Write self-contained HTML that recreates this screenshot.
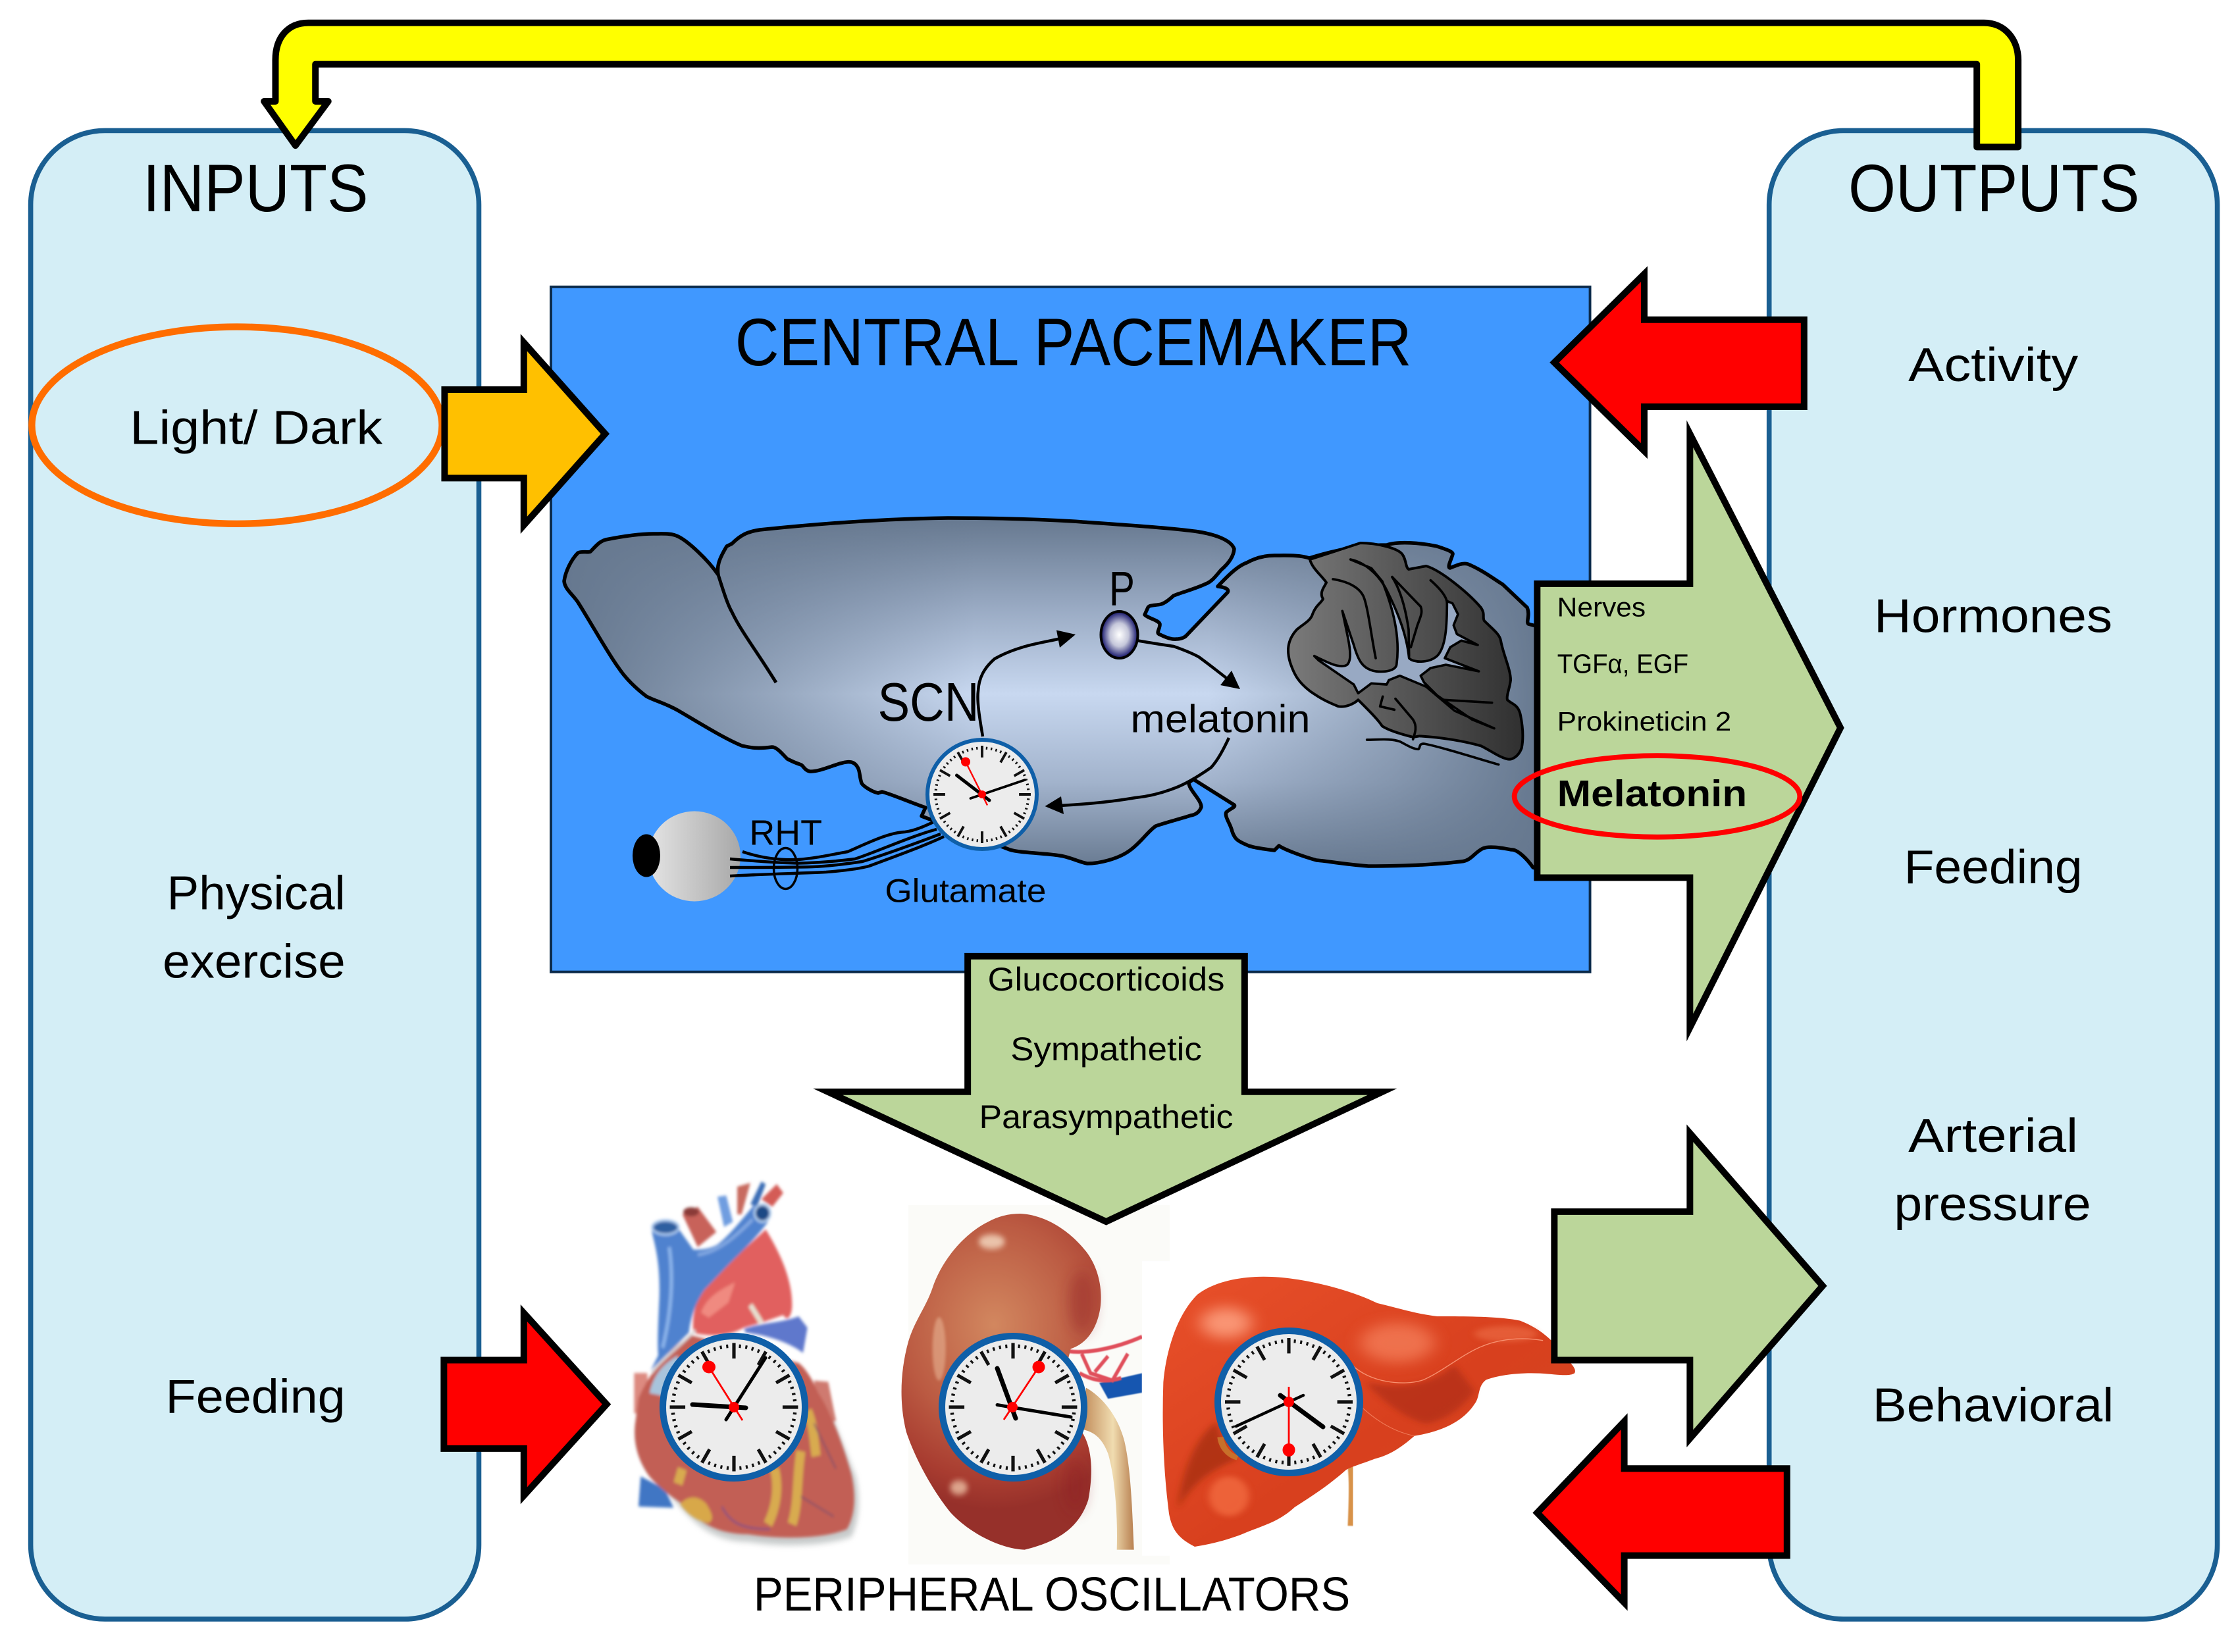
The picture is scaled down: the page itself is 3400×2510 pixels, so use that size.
<!DOCTYPE html>
<html><head><meta charset="utf-8">
<style>
html,body{margin:0;padding:0;background:#fff}
svg{display:block}
text{font-family:"Liberation Sans",sans-serif;fill:#000}
</style></head><body>
<svg xmlns="http://www.w3.org/2000/svg" width="3400" height="2510" viewBox="0 0 3400 2510">
<defs>
<linearGradient id="bv" x1="0" x2="0" y1="0" y2="1"><stop offset="0" stop-color="#66788f"/><stop offset=".25" stop-color="#98a9c2"/><stop offset=".5" stop-color="#c8d8f0"/><stop offset=".75" stop-color="#a2b3cc"/><stop offset="1" stop-color="#66788f"/></linearGradient>
<linearGradient id="bh" x1="0" x2="1" y1="0" y2="0"><stop offset="0" stop-color="#66788f" stop-opacity="1"/><stop offset=".22" stop-color="#66788f" stop-opacity=".5"/><stop offset=".42" stop-color="#66788f" stop-opacity="0"/><stop offset=".66" stop-color="#66788f" stop-opacity="0"/><stop offset=".85" stop-color="#66788f" stop-opacity=".5"/><stop offset="1" stop-color="#66788f" stop-opacity="1"/></linearGradient>
<linearGradient id="cereb" gradientUnits="userSpaceOnUse" x1="20" x2="1090" y1="0" y2="0"><stop offset="0" stop-color="#7a7a7a"/><stop offset="1" stop-color="#303030"/></linearGradient>
<linearGradient id="eye" x1="0" x2="1" y1="0" y2="0"><stop offset="0" stop-color="#e4e4e4"/><stop offset="1" stop-color="#a8a8a8"/></linearGradient>
<radialGradient id="pin"><stop offset="0" stop-color="#fff"/><stop offset=".5" stop-color="#c5c7da"/><stop offset="1" stop-color="#12126a"/></radialGradient>
<radialGradient id="kid" gradientUnits="userSpaceOnUse" cx="480" cy="520" r="760"><stop offset="0" stop-color="#d2875f"/><stop offset=".55" stop-color="#bb5a42"/><stop offset=".85" stop-color="#a83c30"/><stop offset="1" stop-color="#96302a"/></radialGradient>
<linearGradient id="ure" x1="0" x2="1" y1="0" y2="0"><stop offset="0" stop-color="#c08a58"/><stop offset=".6" stop-color="#f0dcb0"/><stop offset="1" stop-color="#b88050"/></linearGradient>
<linearGradient id="liv" x1="0" x2="1" y1="0" y2="1"><stop offset="0" stop-color="#e8502a"/><stop offset=".55" stop-color="#d8401e"/><stop offset="1" stop-color="#d24822"/></linearGradient>
<filter id="b1" x="-20%" y="-20%" width="140%" height="140%"><feGaussianBlur stdDeviation="2"/></filter>
<filter id="b2" x="-20%" y="-20%" width="140%" height="140%"><feGaussianBlur stdDeviation="6"/></filter>
<filter id="b3" x="-30%" y="-30%" width="160%" height="160%"><feGaussianBlur stdDeviation="12"/></filter>
<filter id="b4" x="-60%" y="-60%" width="220%" height="220%"><feGaussianBlur stdDeviation="30"/></filter>
<path id="brainp" d="M857 883C859 868 868 850 878 840C885 837 893 840 897 838C905 830 910 823 920 820C945 815 970 811 993 811C1010 811 1020 810 1030 815C1045 822 1075 850 1091 873C1089 860 1092 850 1104 830L1112 826C1125 813 1135 808 1154 805C1250 795 1350 788 1440 787C1500 787 1560 788 1630 792C1700 797 1780 802 1821 808C1845 812 1870 820 1875 834C1874 848 1862 860 1855 866C1845 878 1840 884 1832 887C1815 895 1795 900 1783 905C1775 912 1770 916 1764 918C1755 920 1746 919 1744 923L1739 934C1745 940 1760 942 1762 948C1763 955 1755 962 1762 964C1770 968 1780 972 1787 971C1795 971 1800 968 1802 966L1865 900C1868 895 1860 892 1850 891C1865 875 1880 860 1894 855C1910 846 1925 844 1936 844C1955 844 1975 843 1989 848C2030 835 2070 828 2107 828C2125 822 2160 825 2183 830C2195 834 2208 838 2207 842C2205 850 2198 862 2203 863C2215 858 2222 855 2230 857C2250 865 2270 880 2283 888L2320 923C2325 935 2318 945 2322 948L2340 953L2340 1322L2329 1318C2320 1305 2305 1290 2296 1291C2280 1288 2262 1285 2253 1289C2240 1295 2235 1308 2220 1309C2170 1315 2120 1316 2079 1316C2040 1313 2015 1308 2000 1307C1975 1300 1950 1290 1943 1285L1936 1292C1920 1290 1905 1288 1897 1285C1880 1278 1875 1275 1871 1260C1868 1250 1860 1240 1863 1234C1870 1228 1878 1226 1875 1223L1813 1184L1806 1189C1806 1200 1825 1215 1825 1226C1822 1235 1815 1238 1809 1239C1790 1245 1770 1250 1756 1255C1745 1262 1735 1278 1718 1291C1700 1305 1670 1312 1652 1312C1640 1310 1625 1302 1610 1300C1585 1296 1550 1296 1534 1291L1400 1240L1406 1227C1380 1218 1355 1207 1340 1203L1334 1205C1325 1203 1312 1195 1309 1190C1305 1178 1307 1170 1301 1163C1295 1155 1285 1157 1270 1162C1255 1167 1240 1173 1230 1172C1222 1170 1220 1163 1217 1162C1205 1158 1200 1155 1196 1153C1188 1145 1180 1135 1173 1135C1150 1138 1140 1136 1127 1133C1100 1122 1060 1097 1031 1080C1010 1068 995 1065 982 1058C965 1045 950 1030 940 1015C925 995 900 950 878 915C870 903 858 895 857 883Z"/>
<g id="face">
<circle r="50" fill="#ececec"/>
<circle r="41.500" fill="none" stroke="#111" stroke-width="2.400" pathLength="60" stroke-dasharray=".32 .68" stroke-dashoffset=".16"/>
<path stroke="#111" stroke-width="2.300" fill="none" d="M0-43.500V-33M0 43.500V33M-43.500 0H-33M43.500 0H33M21.700-37.700L16.500-28.600M37.700-21.700L28.600-16.500M-21.700-37.700L-16.500-28.600M-37.700-21.700L-28.600-16.500M21.700 37.700L16.500 28.600M37.700 21.700L28.600 16.500M-21.700 37.700L-16.500 28.600M-37.700 21.700L-28.600 16.500"/>
</g>
</defs>

<rect width="3400" height="2510" fill="#fff"/>

<!-- panels + blue box -->
<g transform="scale(2.16837)">
<rect x="21.500" y="91.500" width="314" height="1043" rx="52" ry="52" fill="#d4eef6" stroke="#1a5f92" stroke-width="3.500"/>
<rect x="1239.500" y="91.500" width="314" height="1043" rx="52" ry="52" fill="#d4eef6" stroke="#1a5f92" stroke-width="3.500"/>
<rect x="386" y="201" width="728" height="480" fill="#4098ff" stroke="#0b2a4a" stroke-width="1.800"/>
<ellipse cx="166" cy="298" rx="143.700" ry="69" fill="#d4eef6" stroke="#ff6d00" stroke-width="4.800"/>
</g>

<!-- brain -->
<use href="#brainp" fill="url(#bv)"/>
<use href="#brainp" fill="url(#bh)"/>
<use href="#brainp" fill="none" stroke="#000" stroke-width="5.500" stroke-linejoin="round"/>
<path d="M1091 873C1098 895 1105 918 1112 930C1125 958 1150 990 1179 1037" fill="none" stroke="#000" stroke-width="5"/>

<!-- cerebellum -->
<g transform="translate(1950 800) scale(.33333)">
<path d="M120 150L350 75C430 75 520 100 540 125C560 150 555 185 570 195L650 180C720 200 850 310 900 370C920 400 905 415 915 430C950 465 985 490 990 520C1000 580 1035 650 1035 700C1030 740 1015 770 1020 790C1040 810 1070 810 1080 860C1090 910 1095 960 1085 1010C1070 1050 1040 1065 1020 1060C980 1050 950 1025 900 1000C830 980 720 960 620 955L590 960C550 950 480 930 450 910C430 880 400 850 340 790C320 810 280 825 250 820C200 800 170 785 120 750C70 710 50 680 30 620C15 570 15 520 60 470C90 445 120 430 130 405C145 360 170 350 180 330C160 300 190 270 195 255C170 220 130 190 120 150Z" fill="url(#cereb)" stroke="#000" stroke-width="12" stroke-linejoin="round"/>
<path d="M305 150C360 160 430 210 470 290C510 370 560 480 572 600C590 620 660 625 700 590C740 550 745 450 745 340L770 350L795 400L775 450L790 490L885 540L810 520L760 550L735 600L890 660L740 630L670 645L625 680L640 710L700 770L860 880L960 920L780 840L650 730L530 680L480 700L470 720L400 715L340 760L320 720L160 610L140 590C200 620 260 650 290 630C310 610 305 560 290 490L268 385L320 540C340 610 360 650 420 660C470 665 510 655 515 630C530 520 510 400 450 250L400 190Z" fill="#98a9c3" stroke="#000" stroke-width="11" stroke-linejoin="round"/>
<g fill="none" stroke="#000" stroke-width="11" stroke-linecap="round" stroke-linejoin="round">
<path d="M225 240C290 250 345 275 365 320C385 370 400 500 420 600"/>
<path d="M495 230L625 365C635 390 625 410 610 450L580 550"/>
<path d="M495 230C540 300 560 400 570 470L572 590"/>
<path d="M670 245C710 280 745 320 745 350"/>
<path d="M730 790L950 803"/>
<path d="M452 775L440 820L505 835"/>
<path d="M510 785L590 880C610 910 600 940 590 970"/>
<path d="M380 972C430 972 490 965 530 980C560 995 590 1015 615 1015C625 1005 615 990 640 990C700 1000 860 1050 980 1085"/>
</g>
</g>

<!-- eye -->
<ellipse cx="1055" cy="1301" rx="70" ry="68.500" fill="url(#eye)"/>
<ellipse cx="982" cy="1300" rx="21" ry="32.500" fill="#000"/>
<g fill="none" stroke="#000" stroke-width="4.500">
<path d="M1128 1294C1160 1305 1190 1307 1212 1306C1240 1304 1265 1298 1288 1294C1320 1280 1350 1265 1375 1264C1390 1262 1405 1255 1418 1249"/>
<path d="M1109 1305C1145 1308 1180 1311 1212 1311.500C1245 1311 1275 1308 1299 1305C1330 1295 1385 1270 1423 1260"/>
<path d="M1109 1318C1150 1318 1195 1318 1234 1317C1260 1316 1290 1312 1310 1309C1340 1300 1395 1280 1429 1267"/>
<path d="M1109 1331C1160 1328 1215 1327 1255 1325C1280 1323 1305 1320 1320 1316C1355 1303 1405 1285 1434 1271"/>
</g>
<ellipse cx="1193.500" cy="1319.500" rx="18" ry="31" fill="none" stroke="#000" stroke-width="3.500"/>

<!-- pineal + arrows -->
<ellipse cx="1700.500" cy="964.500" rx="28" ry="35.500" fill="url(#pin)" stroke="#000" stroke-width="4"/>
<g fill="none" stroke="#000" stroke-width="4.500">
<path d="M1493 1119C1488 1090 1484 1065 1486 1050C1487 1030 1495 1015 1511 1001C1525 993 1538 988 1553 983.500C1570 978 1590 975 1612 970"/>
<path d="M1729 973.500C1750 977 1768 980 1783 982C1800 988 1810 992 1821 998C1835 1008 1850 1020 1868 1034"/>
<path d="M1867 1121C1858 1140 1850 1155 1840 1166C1820 1180 1800 1192 1783 1198C1765 1205 1745 1210 1725 1212C1690 1218 1650 1222 1610 1224"/>
</g>
<path d="M1634 964L1605 957.500L1610 984Z" fill="#000"/>
<path d="M1884 1047L1871 1019L1854 1041Z" fill="#000"/>
<path d="M1587.500 1225L1612 1210L1616 1237Z" fill="#000"/>

<!-- main clock -->
<g transform="translate(1492 1207) scale(1.700)"><use href="#face"/></g>
<circle cx="1492" cy="1207" r="83" fill="none" stroke="#0f5fa8" stroke-width="6"/>
<g stroke="#000" stroke-linecap="round">
<path d="M1453.500 1178L1503 1216" stroke-width="5"/>
<path d="M1557 1185L1474.500 1213" stroke-width="3.800"/>
</g>
<path d="M1467 1157.500L1500 1223.500" stroke="#f00" stroke-width="2.400"/><circle cx="1467" cy="1157.500" r="7" fill="#f00"/><circle cx="1492" cy="1207" r="6" fill="#f00"/>

<!-- kidney backdrop -->
<rect x="1380" y="1831" width="397" height="546" fill="#fbfbf8"/>
<g transform="translate(1350 1820) scale(.33333 .36996)">
<path d="M960 760L1155 720V800L1000 825Z" fill="#1257b0" filter="url(#b1)"/>
<g fill="none" stroke="#e0505c" stroke-width="16" filter="url(#b1)">
<path d="M820 630C900 640 1030 620 1155 570"/>
<path d="M880 640L920 720L1020 750L1090 640"/>
<path d="M870 720C930 750 990 760 1060 740"/>
<path d="M1000 650L940 715"/>
</g>
<path d="M1155 260H1300V1470H1155Z" fill="#fff"/>
<path d="M900 780C960 810 1040 880 1075 1000C1105 1120 1110 1280 1118 1445L1040 1445C1045 1300 1030 1140 1000 1050C970 980 930 960 880 950Z" fill="url(#ure)"/>
<path d="M600 65C720 70 830 140 900 220C960 290 975 380 965 450C950 540 900 600 830 620L780 800L880 960C925 1020 935 1120 910 1240C870 1350 780 1410 620 1445C500 1440 360 1370 280 1290C200 1200 120 1070 80 960C50 850 50 720 90 590C120 500 170 450 200 370C240 260 340 150 450 100C500 75 550 65 600 65Z" fill="url(#kid)"/>
<ellipse cx="470" cy="180" rx="60" ry="30" fill="#f6dcc4" opacity=".8" filter="url(#b3)"/>
<ellipse cx="230" cy="620" rx="30" ry="130" fill="#eab898" opacity=".55" filter="url(#b2)"/>
<ellipse cx="320" cy="1190" rx="40" ry="30" fill="#ecc0a4" opacity=".8" filter="url(#b3)"/>
<ellipse cx="880" cy="430" rx="60" ry="130" fill="#8e1e20" opacity=".4" filter="url(#b4)"/>
<ellipse cx="850" cy="1180" rx="50" ry="110" fill="#8e1e20" opacity=".4" filter="url(#b4)"/>
</g>

<!-- liver -->
<rect x="1735" y="1918" width="60" height="445" fill="#fff"/>
<g transform="translate(1750 1900) scale(.43365 .33333)">
<path d="M685 900C705 1000 702 1100 697 1255" fill="none" stroke="#d8924a" stroke-width="22" filter="url(#b1)"/>
<path d="M40 600C50 450 90 290 160 200C230 130 340 115 420 120C520 125 680 170 790 240C870 265 930 290 1000 300C1100 300 1220 300 1290 320C1350 350 1400 400 1440 470C1470 520 1490 540 1480 560C1460 575 1420 565 1360 560C1280 555 1210 570 1170 590C1140 620 1150 670 1130 700C1100 760 1040 820 920 845C880 890 840 930 780 950C740 970 700 985 680 1000C620 1070 560 1120 500 1170C450 1230 400 1250 340 1280C270 1320 200 1340 150 1350C90 1310 70 1270 60 1200C40 1000 35 800 40 600Z" fill="url(#liv)"/>
<ellipse cx="260" cy="330" rx="90" ry="70" fill="#ffa888" opacity=".8" filter="url(#b4)"/>
<ellipse cx="860" cy="420" rx="130" ry="90" fill="#f5805c" opacity=".75" filter="url(#b4)"/>
<ellipse cx="1240" cy="380" rx="110" ry="36" fill="#e8633c" opacity=".8" filter="url(#b3)"/>
<path d="M750 600C800 680 880 760 960 790C1040 770 1100 700 1130 640L1060 520C1000 600 880 640 750 600Z" fill="#a82a12" opacity=".6" filter="url(#b3)"/>
<path d="M90 1180C110 960 170 830 230 780C240 860 260 920 300 950C200 1000 130 1080 90 1180Z" fill="#9c2a10" opacity=".65" filter="url(#b3)"/>
<ellipse cx="270" cy="1120" rx="70" ry="90" fill="#f26a40" opacity=".8" filter="url(#b3)"/>
<path d="M700 520C760 600 880 620 950 590C1020 550 1080 480 1150 440C1220 400 1300 395 1370 410" fill="none" stroke="#f79070" stroke-width="4"/>
<path d="M740 720C800 790 860 830 920 845" fill="none" stroke="#f07a58" stroke-width="3"/>
<path d="M240 850C245 900 270 935 300 945" fill="none" stroke="#c8702a" stroke-width="22"/>
</g>

<!-- heart -->
<g transform="translate(950 1780) scale(.33333 .38270)">
<path d="M60 1000C40 1080 80 1160 130 1220L260 1340C340 1420 430 1470 560 1470C700 1490 900 1490 1030 1450C1070 1380 1070 1290 1050 1210L900 880Z" fill="#9aa0a0" opacity=".55" filter="url(#b3)"/>
<g filter="url(#b2)">
<path d="M70 1210L60 1330L220 1335L180 1260Z" fill="#3f76c4"/>
<path d="M40 800H100L110 960H40Z" fill="#dd8a80"/>
<path d="M860 830L925 835L960 990L890 1000Z" fill="#cf7a70"/>
<path d="M45 1000C35 1080 60 1150 110 1210C170 1270 230 1300 260 1320C340 1400 430 1440 560 1440C700 1460 900 1460 1010 1420C1050 1360 1050 1280 1030 1200C990 1080 940 960 880 880C850 820 820 780 790 760L300 650C200 700 110 800 60 900Z" fill="#c25e54"/>
<path d="M260 170L330 140L415 240L330 300Z" fill="#c8625a"/>
<path d="M620 110L690 50L720 85L670 140Z" fill="#d45c56"/>
<path d="M510 60L570 45L530 170L510 170Z" fill="#c86a5e"/>
<path d="M420 100L460 95L490 200L450 220Z" fill="#6f9de0"/>
<path d="M570 130L620 40L640 50L600 140Z" fill="#3a6db5"/>
<path d="M310 640C300 540 340 470 400 420L640 230C710 330 760 430 760 530C760 570 740 600 720 570L620 600L540 620C480 650 400 660 310 640Z" fill="#e1605f"/>
<path d="M345 560C370 500 430 470 500 440L470 520L380 580Z" fill="#f08a80"/>
<path d="M120 235C130 280 160 350 155 500C150 600 145 680 150 730L115 790L290 640C300 560 330 510 360 470L470 370C540 310 600 260 650 200L590 130C540 180 480 250 420 290C380 310 340 310 310 310L245 230C210 250 160 250 120 235Z" fill="#4f82cf"/>
<path d="M200 300C220 420 210 560 170 700" fill="none" stroke="#8ab3ea" stroke-width="16"/>
<path d="M330 330C420 320 500 260 580 190" fill="none" stroke="#82a8e2" stroke-width="14"/>
<ellipse cx="183" cy="222" rx="60" ry="28" fill="#2f5fa0" stroke="#aac8ee" stroke-width="10"/>
<ellipse cx="625" cy="165" rx="36" ry="34" fill="#1f4a85" stroke="#b0cdee" stroke-width="10"/>
<ellipse cx="300" cy="160" rx="36" ry="18" fill="#8a3a38"/>
<path d="M540 625C620 600 720 600 790 575L830 620L810 720C750 680 650 650 550 640Z" fill="#5f78cc"/>
<path d="M120 800C160 750 240 700 320 630" fill="none" stroke="#d8d8d8" stroke-width="10"/>
<path d="M110 880C130 800 180 760 240 730L230 900Z" fill="#a8c4dc"/>
<path d="M570 530L620 600" stroke="#e6e0d0" stroke-width="22" fill="none"/>
<g fill="none" stroke="#d8ab4f" stroke-width="42" stroke-linejoin="round">
<path d="M680 1180C700 1250 690 1330 650 1400"/>
<path d="M800 1110C780 1220 790 1320 760 1400"/>
<path d="M830 950C860 1010 860 1080 870 1130"/>
<path d="M260 1180L240 1240"/>
</g>
<path d="M250 1320C290 1280 340 1290 370 1320C390 1350 410 1380 380 1395C330 1390 280 1360 250 1320Z" fill="#d8a84a"/>
<path d="M440 1330C480 1400 540 1420 660 1420" fill="none" stroke="#7a4f86" stroke-width="7"/>
<path d="M800 1290L950 1370M860 1000L960 1180" fill="none" stroke="#7a4f6a" stroke-width="6"/>
</g>
</g>

<!-- organ clocks -->
<g transform="translate(1115 2138) scale(2.240)"><use href="#face"/></g>
<circle cx="1115" cy="2138" r="108" fill="none" stroke="#0f5fa8" stroke-width="10"/>
<g stroke="#000" stroke-linecap="round">
<path d="M1163 2063L1103 2157" stroke-width="5"/>
<path d="M1052 2134L1133 2139" stroke-width="7"/>
</g>
<path d="M1077 2077L1128 2158" stroke="#f00" stroke-width="2.800"/><ellipse cx="1077" cy="2077" rx="10" ry="9.500" fill="#f00"/><circle cx="1115" cy="2138" r="8" fill="#f00"/>

<g transform="translate(1539 2138) scale(2.240)"><use href="#face"/></g>
<circle cx="1539" cy="2138" r="108" fill="none" stroke="#0f5fa8" stroke-width="10"/>
<g stroke="#000" stroke-linecap="round">
<path d="M1515 2079L1543 2155" stroke-width="7"/>
<path d="M1515 2134.500L1627 2153" stroke-width="5"/>
</g>
<path d="M1578 2077L1525 2157" stroke="#f00" stroke-width="2.800"/><ellipse cx="1578" cy="2077" rx="9.500" ry="9.500" fill="#f00"/><circle cx="1538" cy="2138" r="8" fill="#f00"/>

<g transform="translate(1958 2130) scale(2.230)"><use href="#face"/></g>
<circle cx="1958" cy="2130" r="108" fill="none" stroke="#0f5fa8" stroke-width="10"/>
<g stroke="#000" stroke-linecap="round">
<path d="M1878 2167L1980 2120" stroke-width="4.500"/>
<path d="M2010 2168L1945 2120" stroke-width="7"/>
</g>
<path d="M1958 2107V2203" stroke="#f00" stroke-width="2.800"/><ellipse cx="1958" cy="2203" rx="9.500" ry="10" fill="#f00"/><circle cx="1958" cy="2130" r="8" fill="#f00"/>

<!-- arrows + text (overview coords) -->
<g transform="scale(2.16837)">
<g stroke="#000" stroke-width="4.600" stroke-linejoin="miter" stroke-miterlimit="12">
<path d="M311.500 273H367V240L424 304L367 368V335H311.500Z" fill="#ffc000"/>
<path d="M1264 224H1152V192L1089 254L1152 316V285H1264Z" fill="#f00"/>
<path d="M1077 409H1184V304L1289.500 510L1184 720V615H1077Z" fill="#bbd69a"/>
<path d="M678 670H872V765H968.500L775 856L580 765H678Z" fill="#bbd69a"/>
<path d="M1089 849H1184V794L1277 901L1184 1008V953H1089Z" fill="#bbd69a"/>
<path d="M1252 1029H1138V996L1077 1060L1138 1123V1090H1252Z" fill="#f00"/>
<path d="M311 953H367V920L425 984L367 1048V1015H311Z" fill="#f00"/>
</g>
<path d="M1385 103V45H221V71H230L207 102L185 71H193V42C193 26 202 16 216 16H1390C1405 16 1414 28 1414 42V103Z" fill="#ff0" stroke="#000" stroke-width="4.600" stroke-linejoin="round"/>
<ellipse cx="1161" cy="558" rx="100" ry="28.500" fill="none" stroke="#f00" stroke-width="3.600"/>

<g font-size="47">
<text x="100" y="148" textLength="158" lengthAdjust="spacingAndGlyphs">INPUTS</text>
<text x="1295" y="148" textLength="204" lengthAdjust="spacingAndGlyphs">OUTPUTS</text>
<text x="515" y="256" textLength="474" lengthAdjust="spacingAndGlyphs">CENTRAL PACEMAKER</text>
</g>
<g font-size="33.500">
<text x="91" y="311" textLength="177" lengthAdjust="spacingAndGlyphs">Light/ Dark</text>
<text x="117" y="637" textLength="125" lengthAdjust="spacingAndGlyphs">Physical</text>
<text x="114" y="685" textLength="128" lengthAdjust="spacingAndGlyphs">exercise</text>
<text x="116" y="990" textLength="126" lengthAdjust="spacingAndGlyphs">Feeding</text>
<text x="1337" y="267" textLength="119" lengthAdjust="spacingAndGlyphs">Activity</text>
<text x="1313" y="443" textLength="167" lengthAdjust="spacingAndGlyphs">Hormones</text>
<text x="1334" y="619" textLength="125" lengthAdjust="spacingAndGlyphs">Feeding</text>
<text x="1337" y="807" textLength="119" lengthAdjust="spacingAndGlyphs">Arterial</text>
<text x="1327" y="855" textLength="138" lengthAdjust="spacingAndGlyphs">pressure</text>
<text x="1312" y="996" textLength="169" lengthAdjust="spacingAndGlyphs">Behavioral</text>
<text x="528" y="1128.500" textLength="418" lengthAdjust="spacingAndGlyphs">PERIPHERAL OSCILLATORS</text>
</g>
<g font-size="23">
<text x="692" y="694" textLength="166" lengthAdjust="spacingAndGlyphs">Glucocorticoids</text>
<text x="708" y="743" textLength="134" lengthAdjust="spacingAndGlyphs">Sympathetic</text>
<text x="686" y="790.500" textLength="178" lengthAdjust="spacingAndGlyphs">Parasympathetic</text>
<text x="620" y="632" textLength="113" lengthAdjust="spacingAndGlyphs">Glutamate</text>
</g>
<g font-size="19">
<text x="1091" y="432" textLength="62" lengthAdjust="spacingAndGlyphs">Nerves</text>
<text x="1091" y="471.500" textLength="92" lengthAdjust="spacingAndGlyphs">TGFα, EGF</text>
<text x="1091" y="512" textLength="122" lengthAdjust="spacingAndGlyphs">Prokineticin 2</text>
</g>
<text x="1091" y="565" font-size="26" font-weight="bold" textLength="133" lengthAdjust="spacingAndGlyphs">Melatonin</text>
<text x="615" y="505" font-size="38" textLength="71" lengthAdjust="spacingAndGlyphs">SCN</text>
<text x="777" y="424" font-size="34" textLength="18" lengthAdjust="spacingAndGlyphs">P</text>
<text x="792" y="513" font-size="27.500" textLength="126" lengthAdjust="spacingAndGlyphs">melatonin</text>
<text x="525" y="592" font-size="25" textLength="51" lengthAdjust="spacingAndGlyphs">RHT</text>
</g>
</svg>
</body></html>
